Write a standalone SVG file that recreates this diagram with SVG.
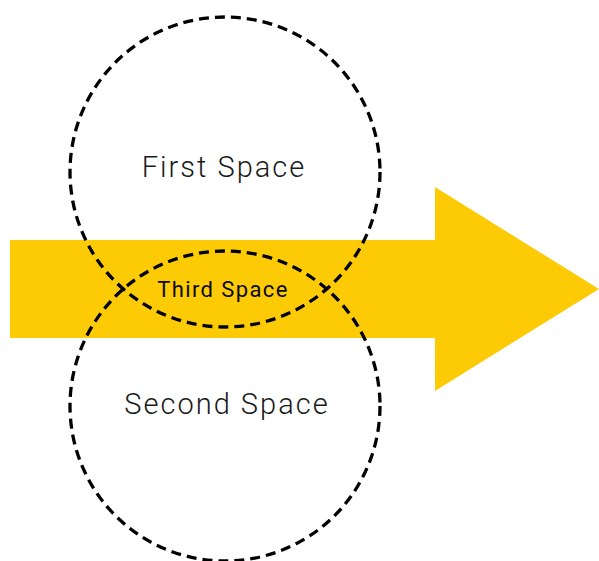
<svg xmlns="http://www.w3.org/2000/svg" width="599" height="561" viewBox="0 0 599 561">
  <style>
    .ring { fill: none; stroke: #000; stroke-width: 3.3; stroke-dasharray: 10 6; }
    .big { font-family: Roboto, "Liberation Sans", sans-serif; font-weight: 300; font-size: 29px; fill: #1a1a1a; text-anchor: middle; letter-spacing: 2px; }
    .mid { font-family: Roboto, "Liberation Sans", sans-serif; font-weight: 400; font-size: 22px; fill: #0a0a0a; text-anchor: middle; letter-spacing: 1.4px; }
  </style>
  <rect width="599" height="561" fill="#fff"/>
  <!-- forward arrow -->
  <g id="arrow">
    <polygon points="10,240 435,240 435,187 599,289 435,391 435,338 10,338" fill="#fdcb05"/>
  </g>
  <g id="connectors"></g>
  <g id="first-space">
    <circle class="ring" cx="225" cy="172" r="155"/>
    <text class="big" x="224" y="177">First Space</text>
  </g>
  <g id="second-space">
    <circle class="ring" cx="225" cy="406" r="155"/>
    <text class="big" x="227" y="414">Second Space</text>
  </g>
  <g id="third-space">
    <text class="mid" x="223" y="297">Third Space</text>
  </g>
</svg>
